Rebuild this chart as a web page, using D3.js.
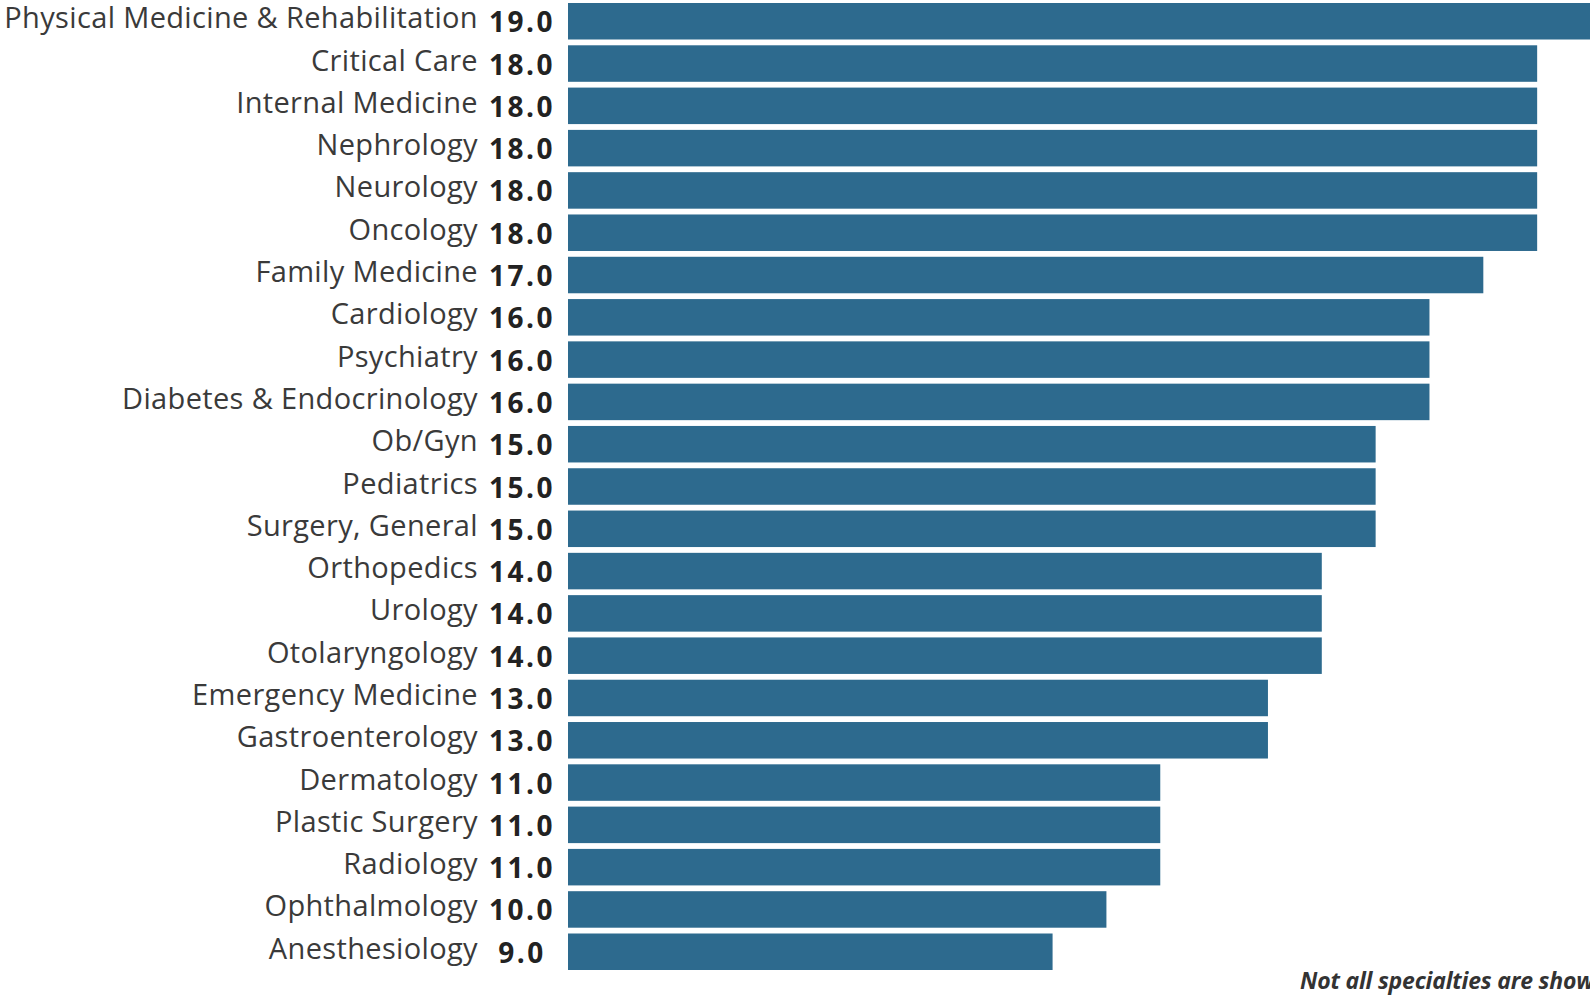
<!DOCTYPE html>
<html>
<head>
<meta charset="utf-8">
<script src="https://cdn.jsdelivr.net/npm/d3@7"></script>
<style>
  html, body { margin: 0; padding: 0; background: #fff; overflow: hidden; }
  svg { display: block; }
  .label { font-family: "Open Sans", sans-serif; fill: #3a3a3a; }
  .value { font-family: "Open Sans", sans-serif; font-weight: bold; fill: #222; }
  .note { font-family: "Open Sans", sans-serif; font-style: italic; font-weight: bold; fill: #333; }
</style>
</head>
<body>
<div id="chart"></div>
<script>
const specialties = [
    "Physical Medicine & Rehabilitation", "Critical Care", "Internal Medicine", "Nephrology",
    "Neurology", "Oncology", "Family Medicine", "Cardiology", "Psychiatry",
    "Diabetes & Endocrinology", "Ob/Gyn", "Pediatrics", "Surgery, General", "Orthopedics",
    "Urology", "Otolaryngology", "Emergency Medicine", "Gastroenterology", "Dermatology",
    "Plastic Surgery", "Radiology", "Ophthalmology", "Anesthesiology"
];
const values = [19, 18, 18, 18, 18, 18, 17, 16, 16, 16, 15, 15, 15, 14, 14, 14, 13, 13, 11, 11, 11, 10, 9];
const note = "Not all specialties are shown";

const data = specialties.map((s, i) => ({name: s, value: values[i]}));

const W = 1590, H = 995;
const margin = {top: 3, right: -1, bottom: 25, left: 568};

const svg = d3.select("#chart")
    .append("svg")
    .attr("width", W)
    .attr("height", H);

const x = d3.scaleLinear()
    .domain([0, 19])
    .range([margin.left, W - margin.right]);

const y = d3.scaleBand()
    .domain(specialties)
    .range([margin.top, H - margin.bottom])
    .paddingInner(0.137)
    .paddingOuter(0);

// Bars
svg.selectAll(".bar")
    .data(data)
    .enter().append("rect")
    .attr("class", "bar")
    .attr("x", x(0))
    .attr("y", d => y(d.name))
    .attr("width", d => x(d.value) - x(0))
    .attr("height", y.bandwidth())
    .attr("fill", "#2d6a8e");

// Category labels
svg.selectAll(".label")
    .data(data)
    .enter().append("text")
    .attr("class", "label")
    .attr("x", 478)
    .attr("y", d => y(d.name) + y.bandwidth() / 2 + 7)
    .attr("text-anchor", "end")
    .style("font-size", "29px")
    .style("letter-spacing", "0.35px")
    .text(d => d.name);

// Value labels
svg.selectAll(".value")
    .data(data)
    .enter().append("text")
    .attr("class", "value")
    .attr("x", 522)
    .attr("y", d => y(d.name) + y.bandwidth() / 2 + 11)
    .attr("text-anchor", "middle")
    .style("font-size", "28px")
    .style("letter-spacing", "2.5px")
    .text(d => d.value.toFixed(1));

// Footnote (runs off the right edge, as in the original)
svg.append("text")
    .attr("class", "note")
    .attr("x", 1300)
    .attr("y", 989)
    .style("font-size", "23px")
    .style("letter-spacing", "-0.2px")
    .text(note);
</script>
</body>
</html>
